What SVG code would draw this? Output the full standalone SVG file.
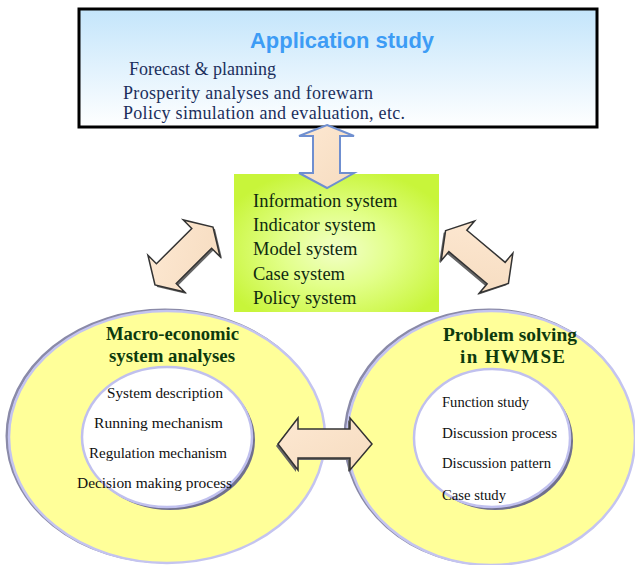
<svg xmlns="http://www.w3.org/2000/svg" width="635" height="565" viewBox="0 0 635 565">
<defs>
<linearGradient id="gTop" x1="0" y1="0" x2="0" y2="1">
<stop offset="0" stop-color="#c4e5fb"/>
<stop offset="1" stop-color="#ffffff"/>
</linearGradient>
<radialGradient id="gGreen" cx="0.5" cy="0.55" r="0.6">
<stop offset="0" stop-color="#f2ffc8"/>
<stop offset="0.45" stop-color="#e2ff8a"/>
<stop offset="1" stop-color="#c8f53a"/>
</radialGradient>
<linearGradient id="gPeach" x1="0" y1="0" x2="1" y2="1">
<stop offset="0" stop-color="#fde8d2"/>
<stop offset="1" stop-color="#f6dcc0"/>
</linearGradient>
<polygon id="dblArrow" points="-41,0 -25,-26 -25,-14 25,-14 25,-26 41,0 25,26 25,14 -25,14 -25,26"/>
</defs>
<style>
.serif{font-family:"Liberation Serif","Times New Roman",serif;}
.topt{font-size:18px;fill:#1b2f5c;}
.grt{font-size:18.5px;fill:#0f2a0f;}
.ttl{font-size:19px;font-weight:bold;fill:#0d3a0d;}
.inr{font-size:15.5px;fill:#111;}
.outer{fill:#ffff99;stroke:#c4c4f0;stroke-width:2.5;}
.outerSh{fill:none;stroke:#8a8aa8;stroke-width:3;}
.inner{fill:#ffffff;stroke:#c0c0ee;stroke-width:2.5;}
.innerSh{fill:#70708e;}
.arr{fill:url(#gPeach);stroke:#333;stroke-width:1.5;stroke-linejoin:miter;}
.arrSh{fill:#666;}
</style>
<rect width="635" height="565" fill="#ffffff"/>

<g id="application-study">
<rect x="79" y="9" width="518" height="118" fill="url(#gTop)" stroke="#000" stroke-width="3"/>
<text x="250" y="48" font-family="'Liberation Sans',Arial,sans-serif" font-size="22" font-weight="bold" fill="#3d9cf5" textLength="184" lengthAdjust="spacingAndGlyphs">Application study</text>
<text class="serif topt" x="129" y="75" textLength="147" lengthAdjust="spacingAndGlyphs">Forecast &amp; planning</text>
<text class="serif topt" x="123" y="99" textLength="250" lengthAdjust="spacing">Prosperity analyses and forewarn</text>
<text class="serif topt" x="123" y="119" textLength="282" lengthAdjust="spacing">Policy simulation and evaluation, etc.</text>
</g>

<g id="systems">
<rect x="234" y="174" width="205" height="138" fill="url(#gGreen)"/>
<text class="serif grt" x="253" y="207">Information system</text>
<text class="serif grt" x="253" y="231">Indicator system</text>
<text class="serif grt" x="253" y="255">Model system</text>
<text class="serif grt" x="253" y="280">Case system</text>
<text class="serif grt" x="253" y="304">Policy system</text>
</g>

<g id="macro-economic">
<ellipse class="outerSh" cx="165" cy="436" rx="158" ry="126"/>
<ellipse class="outer" cx="167" cy="437" rx="158" ry="126"/>
<text class="serif ttl" x="106" y="340" textLength="133" lengthAdjust="spacingAndGlyphs">Macro-economic</text>
<text class="serif ttl" x="109" y="362" textLength="126" lengthAdjust="spacingAndGlyphs">system analyses</text>
<ellipse class="innerSh" cx="170" cy="440" rx="85" ry="70"/>
<ellipse class="inner" cx="167" cy="437" rx="85" ry="70"/>
<text class="serif inr" x="107" y="398" textLength="116" lengthAdjust="spacingAndGlyphs">System description</text>
<text class="serif inr" x="94" y="428" textLength="129" lengthAdjust="spacingAndGlyphs">Running mechanism</text>
<text class="serif inr" x="89" y="458" textLength="138" lengthAdjust="spacingAndGlyphs">Regulation mechanism</text>
<text class="serif inr" x="77" y="488" textLength="155" lengthAdjust="spacingAndGlyphs">Decision making process</text>
</g>

<g id="problem-solving">
<ellipse class="outerSh" cx="489" cy="437" rx="144" ry="127"/>
<ellipse class="outer" cx="491" cy="438" rx="144" ry="127"/>
<text class="serif ttl" x="443" y="341" textLength="134" lengthAdjust="spacingAndGlyphs">Problem solving</text>
<text class="serif ttl" x="460" y="363" textLength="105" lengthAdjust="spacing">in HWMSE</text>
<ellipse class="innerSh" cx="495" cy="441" rx="78" ry="69"/>
<ellipse class="inner" cx="492" cy="438" rx="78" ry="69"/>
<text class="serif inr" x="442" y="407" textLength="87" lengthAdjust="spacingAndGlyphs">Function study</text>
<text class="serif inr" x="442" y="438" textLength="115" lengthAdjust="spacingAndGlyphs">Discussion process</text>
<text class="serif inr" x="442" y="468" textLength="109" lengthAdjust="spacingAndGlyphs">Discussion pattern</text>
<text class="serif inr" x="442" y="500" textLength="64" lengthAdjust="spacingAndGlyphs">Case study</text>
</g>

<g id="connectors">
<polygon points="327,125 354,136 340,136 340,173 354,173 327,188 299,173 313,173 313,136 299,136" fill="url(#gPeach)" stroke="#6f8fd0" stroke-width="2"/>
<use href="#dblArrow" class="arrSh" transform="translate(186,258) rotate(-45)"/>
<use href="#dblArrow" class="arr" transform="translate(184,256) rotate(-45)"/>
<use href="#dblArrow" class="arrSh" transform="translate(475,259) rotate(40)"/>
<use href="#dblArrow" class="arr" transform="translate(477,257) rotate(40)"/>
<polygon class="arrSh" points="276,446 296,420 296,431 348,431 348,420 370,446 348,472 348,460 296,460 296,472"/>
<polygon class="arr" points="278,444 298,418 298,429 350,429 350,418 372,444 350,470 350,458 298,458 298,470"/>
</g>
</svg>
